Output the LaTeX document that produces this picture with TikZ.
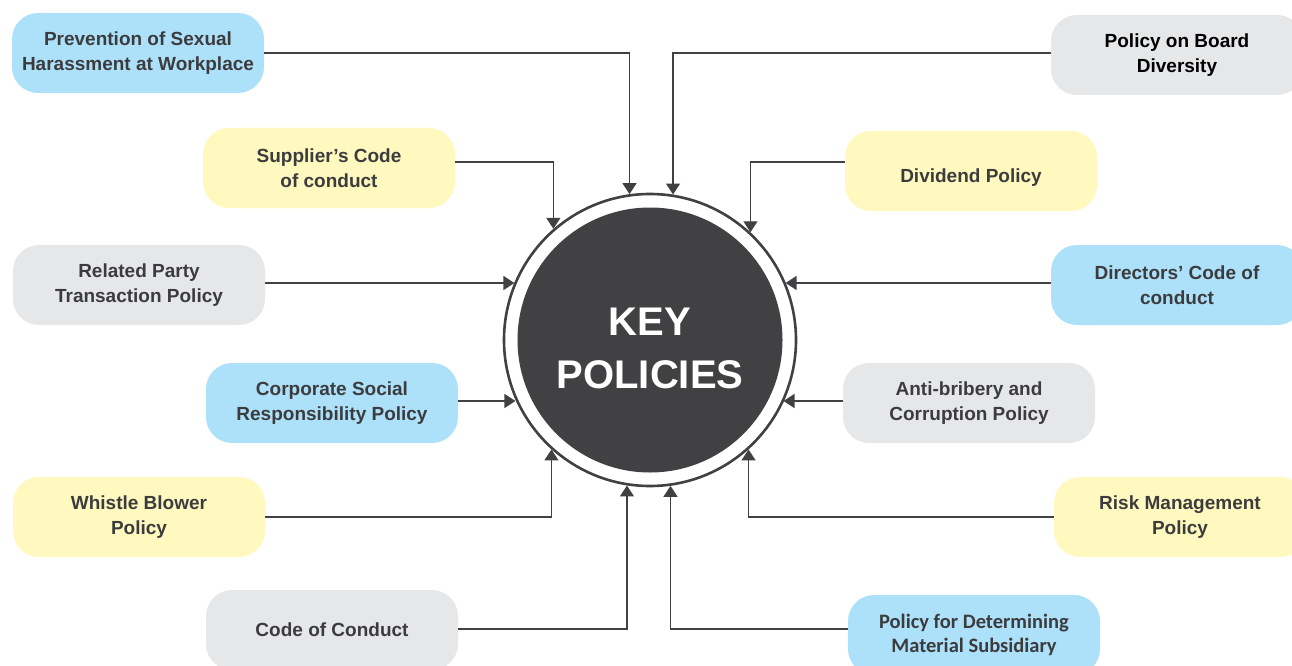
\documentclass[tikz,border=0pt]{standalone}
\usepackage{fontspec}
\setmainfont{Liberation Sans}
\newfontfamily\calfont{Carlito}
\usetikzlibrary{arrows.meta}
\definecolor{pblue}{RGB}{173,225,250}
\definecolor{pyellow}{RGB}{255,249,191}
\definecolor{pgrey}{RGB}{230,231,232}
\definecolor{ptext}{RGB}{60,60,62}
\definecolor{pdark}{RGB}{65,64,66}
\tikzset{
  x=1pt, y=-1pt,
  pbox/.style={rounded corners=26pt, minimum width=252pt, minimum height=80pt,
    align=center, inner sep=0pt, font=\fontsize{19}{24.5}\selectfont\bfseries, text=ptext},
  bluebox/.style={pbox, fill=pblue},
  yellowbox/.style={pbox, fill=pyellow},
  greybox/.style={pbox, fill=pgrey},
  conn/.style={draw=pdark, line width=1.3pt, -{Triangle[width=14pt,length=11pt]}},
}
\begin{document}
\begin{tikzpicture}
\useasboundingbox (0,0) rectangle (1292,666);
% central circle
\node[circle, draw=pdark, line width=2.6pt, fill=white, minimum size=292pt, inner sep=0pt] (circ) at (650,340) {};
\node[circle, fill=pdark, minimum size=265pt, inner sep=0pt] (core) at (650,340) {};
\node[text=white, align=center, font=\fontsize{40}{53}\selectfont\bfseries] (title) at (650,348) {KEY\\POLICIES};
% boxes
\node[bluebox] (b1) at (138,53) {Prevention of Sexual\\Harassment at Workplace};
\node[greybox, text=black] (b2) at (1177,55) {Policy on Board\\Diversity};
\node[yellowbox] (b3) at (329,168) {Supplier's Code\\of conduct};
\node[yellowbox] (b4) at (971,171) {\raisebox{-11.5pt}[10pt][10pt]{Dividend Policy}};
\node[greybox] (b5) at (139,285) {Related Party\\Transaction Policy};
\node[bluebox] (b6) at (1177,285) {Directors' Code of\\conduct};
\node[bluebox] (b7) at (332,403) {Corporate Social\\Responsibility Policy};
\node[greybox] (b8) at (969,403) {Anti-bribery and\\Corruption Policy};
\node[yellowbox] (b9) at (139,517) {Whistle Blower\\Policy};
\node[yellowbox] (b10) at (1180,517) {Risk Management\\Policy};
\node[greybox] (b11) at (332,630) {Code of Conduct};
\node[bluebox, font=\calfont\fontsize{20.5}{24}\selectfont\bfseries] (b12) at (974,635) {Policy for Determining\\Material Subsidiary};
% connectors
\draw[conn] (b1.east |- 0,53) -| (circ.98.27);
\draw[conn] (b2.west |- 0,53) -| (circ.81.33);
\draw[conn] (b3.east |- 0,162) -| (circ.131.1);
\draw[conn] (b4.west |- 0,162) -| (circ.47.84);
\draw[conn] (b5.east |- 0,283) -- (circ.157.0 |- 0,283);
\draw[conn] (b6.west |- 0,283) -- (circ.23.0 |- 0,283);
\draw[conn] (b7.east |- 0,401) -- (circ.204.7 |- 0,401);
\draw[conn] (b8.west |- 0,401) -- (circ.335.3 |- 0,401);
\draw[conn] (b9.east |- 0,517) -| (circ.228.9);
\draw[conn] (b10.west |- 0,517) -| (circ.312.16);
\draw[conn] (b11.east |- 0,629) -| (circ.261.73);
\draw[conn] (b12.west |- 0,629) -| (circ.278.67);
\end{tikzpicture}
\end{document}
